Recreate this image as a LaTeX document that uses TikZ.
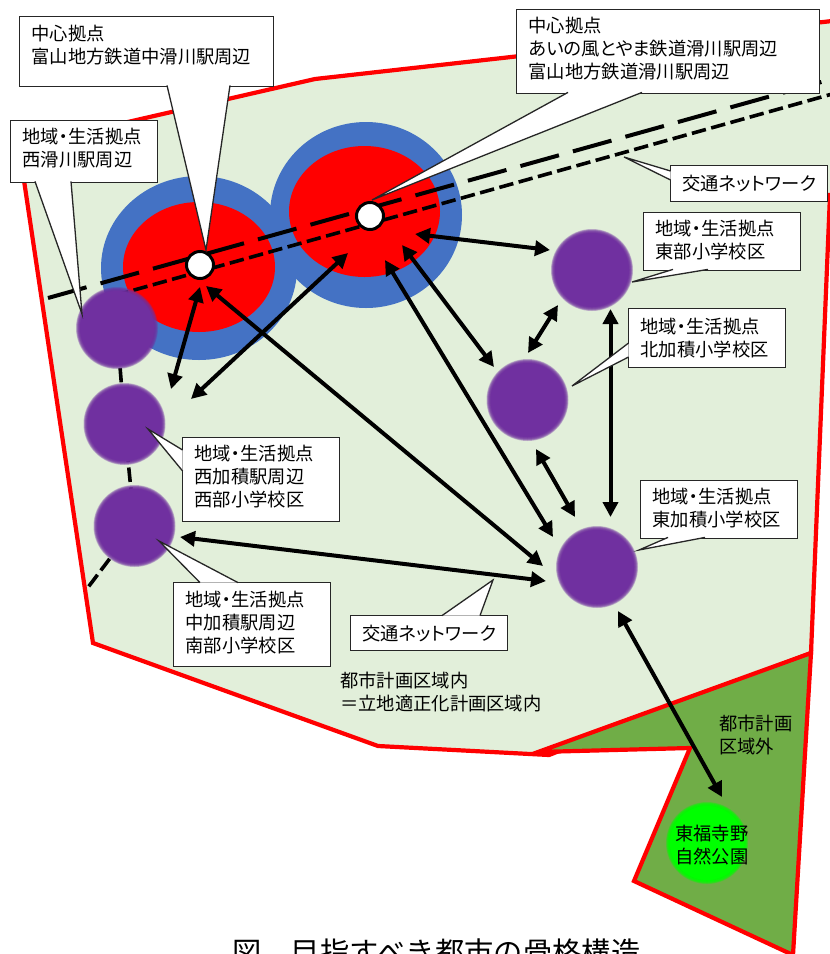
\documentclass[tikz,border=0pt]{standalone}
\usepackage{fontspec}
\setmainfont[RawFeature=+palt]{Noto Sans CJK JP}
\newfontfamily\fullwidth{Noto Sans CJK JP}
\usetikzlibrary{arrows.meta}
\definecolor{areain}{HTML}{E2EFDA}
\definecolor{areaout}{HTML}{70AD47}
\definecolor{ringblue}{HTML}{4472C4}
\definecolor{hubpurple}{HTML}{7030A0}
\newcommand{\softhub}[3]{%
    \foreach \r in {41,40.5,40,39.5,39,38.5,38,37.5,37}
        \fill[#3,opacity=.3] (#2) circle (\r pt);
    \node[hub,fill=#3](#1) at (#2) {};
}
\newcommand{\liftby}[1]{\\[-#1pt]\mbox{}}
\begin{document}
\begin{tikzpicture}[x=1pt,y=-1pt,
    area/.style={draw=red,line width=4.2pt,line join=miter},
    hub/.style={circle,minimum size=74pt,inner sep=0pt,outer sep=0pt},
    stn/.style={circle,draw=black,line width=3pt,fill=white,minimum size=27pt,inner sep=0pt},
    longdash/.style={line width=4pt,dash pattern=on 40pt off 14.5pt},
    shortdash/.style={line width=3.6pt,dash pattern=on 14.5pt off 5.5pt},
    link/.style={line width=4pt,{Triangle[length=15pt,width=15pt]}-{Triangle[length=15pt,width=15pt]}},
    labelbox/.style={draw=black!85,line width=1.3pt,fill=white,align=left,anchor=north west,inner xsep=12pt,inner ysep=0pt,font=\fontsize{18.3}{23}\selectfont},
    pointer/.style={draw=black!85,line width=1.3pt,fill=white,line join=miter},
    plain/.style={align=left,anchor=north west,inner sep=0pt,font=\fontsize{18.3}{23}\selectfont}]
    \useasboundingbox (0,0) rectangle (830,954);
    \clip (0,0) rectangle (830,954);
    %
    \draw[area,fill=areain] (19,147) -- (315,79) -- (850,19) -- (850,195) -- (830,195) -- (811,653) -- (549,755) -- (378,746) -- (93,643) -- cycle;
    \draw[area,fill=areaout] (538,752) -- (811,653) -- (793,955) -- (634,881) -- (690,748) -- cycle;
    %
    \fill[ringblue] (199,268) ellipse [x radius=98,y radius=92];
    \fill[ringblue] (366,215) ellipse [x radius=96,y radius=93];
    \fill[red] (199,267) ellipse [x radius=76,y radius=65];
    \fill[red] (364.5,211.5) ellipse [x radius=75.5,y radius=65.5];
    %
    \coordinate (railwest) at (48,298);
    \coordinate (raileast) at (850,74);
    \coordinate (linewest) at (95,301);
    \coordinate (lineeast) at (850,89);
    \draw[longdash] (railwest) -- (raileast);
    \draw[shortdash] (linewest) -- (lineeast);
    %
    \node[stn](stna) at (200,265) {};
    \node[stn](stnb) at (370,216) {};
    %
    \coordinate (branchend) at (86,590);
    \draw[shortdash] (117,328) -- (124.5,424) -- (134.5,526) -- (branchend);
    %
    \softhub{hubw}{117,328}{hubpurple}
    \softhub{hubx}{124.5,424}{hubpurple}
    \softhub{huby}{134.5,526}{hubpurple}
    \softhub{hubn}{592,270}{hubpurple}
    \softhub{hubk}{527.5,400}{hubpurple}
    \softhub{hube}{597,567}{hubpurple}
    \softhub{park}{707,843}{green}
    %
    \coordinate (a1) at (200,287);
    \coordinate (a2) at (171,389);
    \draw[link] (a1) -- (a2);
    %
    \coordinate (b1) at (348,253);
    \coordinate (b2) at (191,399);
    \draw[link] (b1) -- (b2);
    %
    \coordinate (c1) at (206,286);
    \coordinate (c2) at (543,566);
    \draw[link] (c1) -- (c2);
    %
    \coordinate (d1) at (385,260);
    \coordinate (d2) at (553,537);
    \draw[link] (d1) -- (d2);
    %
    \coordinate (e1) at (402,245);
    \coordinate (e2) at (494,367);
    \draw[link] (e1) -- (e2);
    %
    \coordinate (f1) at (415,234);
    \coordinate (f2) at (550,250);
    \draw[link] (f1) -- (f2);
    %
    \coordinate (g1) at (558,305);
    \coordinate (g2) at (528,353);
    \draw[link] (g1) -- (g2);
    %
    \coordinate (h1) at (610.5,309);
    \coordinate (h2) at (610.5,517);
    \draw[link] (h1) -- (h2);
    %
    \coordinate (i1) at (536,449);
    \coordinate (i2) at (575,517);
    \draw[link] (i1) -- (i2);
    %
    \coordinate (j1) at (180,537);
    \coordinate (j2) at (546,581);
    \draw[link] (j1) -- (j2);
    %
    \coordinate (k1) at (618,611);
    \coordinate (k2) at (722,797);
    \draw[link] (k1) -- (k2);
    %
    \node[labelbox,text width=230pt,minimum height=70pt](boxa) at (19,16) {中心拠点\\富山地方鉄道中滑川駅周辺\liftby{9}};
    \draw[pointer] (167,85.4) -- (206,250) -- (230,85.4);
    %
    \node[labelbox,text width=123pt,minimum height=62pt](boxw) at (10,120) {地域・生活拠点\\西滑川駅周辺\liftby{14}};
    \draw[pointer] (35,181.4) -- (82,314) -- (71,181.4);
    %
    \node[labelbox,text width=279pt,minimum height=84pt](boxb) at (516,9) {中心拠点\\あいの風とやま鉄道滑川駅周辺\\富山地方鉄道滑川駅周辺\liftby{15}};
    \draw[pointer] (568,92.4) -- (372,200) -- (642,92.4);
    %
    \node[labelbox,text width=133pt,minimum height=36pt](boxt) at (670,165) {交通ネットワーク};
    \draw[pointer] (670.6,171) -- (624,157) -- (670.6,180);
    %
    \node[labelbox,text width=133pt,minimum height=58pt](boxn) at (643,212) {地域・生活拠点\\東部小学校区\liftby{18}};
    \draw[pointer] (673,269.4) -- (632,282) -- (708,269.4);
    %
    \node[labelbox,text width=133pt,minimum height=59pt](boxk) at (628,308) {地域・生活拠点\\北加積小学校区};
    \draw[pointer] (628.6,343) -- (572,386) -- (628.6,357);
    %
    \node[labelbox,text width=133pt,minimum height=58pt](boxe) at (640,480) {地域・生活拠点\\東加積小学校区\liftby{19}};
    \draw[pointer] (668,537.4) -- (639,550) -- (705,537.4);
    %
    \node[labelbox,text width=133pt,minimum height=84pt](boxx) at (182,437) {地域・生活拠点\\西加積駅周辺\\西部小学校区\liftby{16}};
    \draw[pointer] (182.6,450) -- (148,429) -- (182.6,471);
    %
    \node[labelbox,text width=133pt,minimum height=84pt](boxy) at (173,582) {地域・生活拠点\\中加積駅周辺\\南部小学校区\liftby{17}};
    \draw[pointer] (200,582.6) -- (159,541) -- (238,582.6);
    %
    \node[labelbox,text width=133pt,minimum height=35pt](boxs) at (350,615) {交通ネットワーク};
    \draw[pointer] (442,615.6) -- (493,580) -- (480,615.6);
    %
    \node[plain](inner) at (340,671.5) {都市計画区域内\\＝立地適正化計画区域内};
    \node[plain](outer) at (719,714.5) {都市計画\\区域外};
    \node[plain](parktext) at (675,825) {東福寺野\\自然公園};
    \node[anchor=base west,inner sep=0pt,font=\fullwidth\fontsize{29.3}{34}\selectfont](title) at (232,963) {図　目指すべき都市の骨格構造};
    %
\end{tikzpicture}
\end{document}
